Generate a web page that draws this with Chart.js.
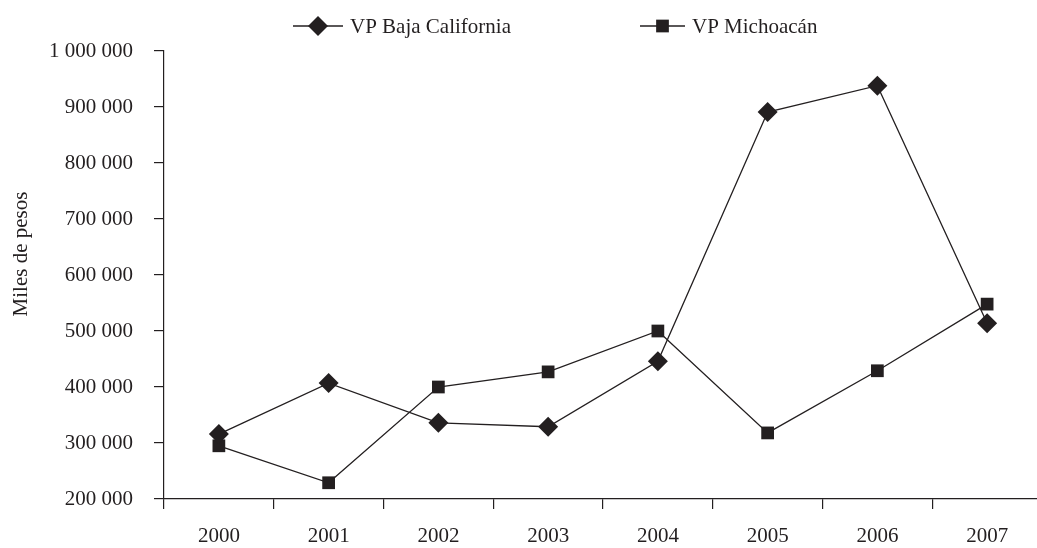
<!DOCTYPE html>
<html>
<head>
<meta charset="utf-8">
<script src="https://cdn.jsdelivr.net/npm/chart.js@4"></script>
<style>
  html, body { margin: 0; padding: 0; background: #fff; overflow: hidden; }
  #wrap { width: 1052px; height: 548px; }
</style>
</head>
<body>
<div id="wrap"><canvas id="chart" width="1052" height="548"></canvas></div>
<script>
const years = ['2000', '2001', '2002', '2003', '2004', '2005', '2006', '2007'];
const bajaCalifornia = [316000, 407000, 336000, 329000, 446000, 891000, 938000, 514000];
const michoacan = [295000, 229000, 400000, 427000, 500000, 318000, 429000, 548000];
const yMin = 200000;
const yMax = 1000000;
const yStep = 100000;
const yTitle = 'Miles de pesos';

const ink = '#231f20';
const serif = 'Liberation Serif, Times New Roman, serif';
const fontSize = 21;

function spaced(v) {
    return String(v).replace(/\B(?=(\d{3})+(?!\d))/g, ' ');
}

// leyenda y titulo del eje dibujados a mano
const extras = {
    id: 'extras',
    afterDraw(chart, args, opts) {
        const ctx = chart.ctx;
        ctx.save();
        ctx.font = fontSize + 'px ' + serif;
        chart.data.datasets.forEach(function(ds, i) {
            const it = opts.items[i];
            ctx.strokeStyle = ds.borderColor;
            ctx.lineWidth = 1.3;
            ctx.beginPath();
            ctx.moveTo(it.x, opts.y);
            ctx.lineTo(it.x + it.w, opts.y);
            ctx.stroke();
            ctx.fillStyle = ds.pointBackgroundColor;
            Chart.helpers.drawPoint(ctx, {
                pointStyle: ds.pointStyle,
                radius: ds.pointRadius,
                borderWidth: 0,
                rotation: 0
            }, it.x + it.w / 2, opts.y);
            ctx.fillStyle = ink;
            ctx.textBaseline = 'middle';
            ctx.textAlign = 'left';
            ctx.fillText(ds.label, it.x + it.w + 7, opts.y + 1);
        });
        // titulo del eje y
        ctx.translate(opts.titleX, opts.titleY);
        ctx.rotate(-Math.PI / 2);
        ctx.textAlign = 'center';
        ctx.textBaseline = 'middle';
        ctx.fillStyle = ink;
        ctx.fillText(yTitle, 0, 0);
        ctx.restore();
    }
};

new Chart(document.getElementById('chart').getContext('2d'), {
    type: 'line',
    data: {
        labels: years,
        datasets: [
            {
                label: 'VP Baja California',
                data: bajaCalifornia,
                borderColor: ink,
                borderWidth: 1.3,
                pointStyle: 'rectRot',
                pointRadius: 10,
                pointBackgroundColor: ink,
                pointBorderWidth: 0,
                tension: 0,
                fill: false
            },
            {
                label: 'VP Michoacán',
                data: michoacan,
                borderColor: ink,
                borderWidth: 1.3,
                pointStyle: 'rect',
                pointRadius: 9,
                pointBackgroundColor: ink,
                pointBorderWidth: 0,
                tension: 0,
                fill: false
            }
        ]
    },
    options: {
        responsive: false,
        animation: false,
        devicePixelRatio: 1,
        layout: { padding: { top: 51, right: 0, bottom: 0, left: 0 } },
        plugins: {
            legend: { display: false },
            tooltip: { enabled: false },
            extras: {
                y: 26,
                items: [
                    { x: 293, w: 50 },
                    { x: 640, w: 45 }
                ],
                titleX: 21,
                titleY: 254
            }
        },
        scales: {
            y: {
                min: yMin,
                max: yMax,
                afterFit: function(scale) {
                    scale.width = 164;
                    scale.paddingTop = 0;
                    scale.paddingBottom = 0;
                },
                ticks: {
                    stepSize: yStep,
                    padding: 21,
                    color: ink,
                    font: { family: serif, size: fontSize },
                    callback: function(value) { return spaced(value); }
                },
                grid: {
                    drawOnChartArea: false,
                    drawTicks: true,
                    tickLength: 10,
                    color: ink,
                    lineWidth: 1.2
                },
                border: { display: true, color: ink, width: 1.2 }
            },
            x: {
                offset: true,
                afterFit: function(scale) {
                    scale.height = 49;
                    scale.paddingLeft = 0;
                    scale.paddingRight = 0;
                },
                ticks: {
                    padding: 15,
                    color: ink,
                    font: { family: serif, size: fontSize },
                    maxRotation: 0
                },
                grid: {
                    offset: true,
                    drawOnChartArea: false,
                    drawTicks: true,
                    tickLength: 10,
                    color: ink,
                    lineWidth: 1.2
                },
                border: { display: true, color: ink, width: 1.2 }
            }
        }
    },
    plugins: [extras]
});
</script>
</body>
</html>
